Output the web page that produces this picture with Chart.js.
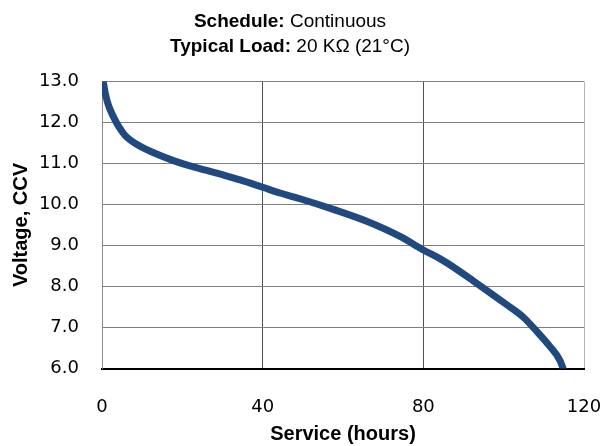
<!DOCTYPE html>
<html>
<head>
<meta charset="utf-8">
<script src="https://cdn.jsdelivr.net/npm/chart.js@4/dist/chart.umd.min.js"></script>
<style>
html,body{margin:0;padding:0;background:#fff;}
#wrap{position:relative;width:603px;height:446px;}
</style>
</head>
<body>
<div id="wrap"><canvas id="c" width="603" height="446"></canvas></div>
<script>
// Data
const hours = [0.3, 0.8, 1.3, 2.0, 3.2, 4.3, 5.7, 7.2, 9.3, 13.6, 17.8, 21.9, 26.1, 30.2, 34.4, 40, 44.3, 49.3, 57.6, 65.9, 74.2, 80, 84.1, 86.6, 92.4, 100.7, 104.9, 108.2, 111.5, 114, 114.8];
const voltage = [13.0, 12.72, 12.52, 12.32, 12.07, 11.88, 11.69, 11.56, 11.43, 11.23, 11.07, 10.94, 10.83, 10.72, 10.60, 10.42, 10.28, 10.14, 9.88, 9.59, 9.22, 8.89, 8.68, 8.53, 8.14, 7.56, 7.25, 6.91, 6.54, 6.2, 6.0];
const xTicks = [0, 40, 80, 120];
const yTicks = [6, 7, 8, 9, 10, 11, 12, 13];
const titleLines = [["Schedule:", " Continuous"], ["Typical Load:", " 20 K\u03A9 (21\u00B0C)"]];

const points = hours.map((h, i) => ({x: h, y: voltage[i]}));

const titlePlugin = {
  id: 'mixedTitle',
  afterDraw(chart) {
    const ctx = chart.ctx;
    ctx.save();
    ctx.fillStyle = '#000';
    ctx.textBaseline = 'middle';
    const cx = 290;
    const ys = [22, 47];
    titleLines.forEach((parts, i) => {
      ctx.font = 'bold 19px "Liberation Sans", Arial, sans-serif';
      const w1 = ctx.measureText(parts[0]).width;
      ctx.font = '19px "Liberation Sans", Arial, sans-serif';
      const w2 = ctx.measureText(parts[1]).width;
      let x = cx - (w1 + w2) / 2;
      ctx.textAlign = 'left';
      ctx.font = 'bold 19px "Liberation Sans", Arial, sans-serif';
      ctx.fillText(parts[0], x, ys[i]);
      ctx.font = '19px "Liberation Sans", Arial, sans-serif';
      ctx.fillText(parts[1], x + w1, ys[i]);
    });
    ctx.restore();
  }
};

new Chart(document.getElementById('c'), {
  type: 'line',
  data: {
    datasets: [{
      data: points,
      borderColor: '#204a7f',
      borderWidth: 7,
      pointRadius: 0,
      cubicInterpolationMode: 'monotone',
      borderCapStyle: 'round',
      borderJoinStyle: 'round',
      fill: false
    }]
  },
  options: {
    responsive: false,
    animation: false,
    layout: {padding: {top: 81.5, right: 19, left: 0, bottom: 0}},
    plugins: {legend: {display: false}, tooltip: {enabled: false}, title: {display: false}},
    scales: {
      x: {
        type: 'linear',
        min: 0, max: 120,
        afterBuildTicks(scale) { scale.ticks = xTicks.map(v => ({value: v})); },
        afterFit(scale) { scale.height = 77.5; scale.paddingLeft = 0; scale.paddingRight = 0; },
        ticks: {
          padding: 28,
          color: '#000',
          font: {family: '"DejaVu Sans", Verdana, sans-serif', size: 18},
          callback: v => String(v)
        },
        grid: {
          drawTicks: false,
          color: ctx => {
            const v = ctx.tick && ctx.tick.value;
            if (v === 120) return '#b4b4b4';
            if (v === 0) return '#888888';
            return '#505050';
          },
          lineWidth: 1
        },
        border: {display: true, color: '#000', width: 2},
        title: {
          display: true,
          text: 'Service (hours)',
          color: '#000',
          font: {family: '"Liberation Sans", Arial, sans-serif', size: 20, weight: 'bold'},
          padding: {top: 0, bottom: 0}
        }
      },
      y: {
        type: 'linear',
        min: 6, max: 13,
        afterBuildTicks(scale) { scale.ticks = yTicks.map(v => ({value: v})); },
        afterFit(scale) { scale.width = 102; scale.paddingTop = 0; scale.paddingBottom = 0; },
        ticks: {
          padding: 23,
          color: '#000',
          font: {family: '"DejaVu Sans", Verdana, sans-serif', size: 18},
          callback: v => Number(v).toFixed(1)
        },
        grid: {
          drawTicks: false,
          color: '#808080',
          lineWidth: 1
        },
        border: {display: true, color: '#888888', width: 1},
        title: {
          display: true,
          text: 'Voltage, CCV',
          color: '#000',
          font: {family: '"Liberation Sans", Arial, sans-serif', size: 20, weight: 'bold'},
          padding: {top: 9, bottom: 0}
        }
      }
    }
  },
  plugins: [titlePlugin]
});
</script>
</body>
</html>
